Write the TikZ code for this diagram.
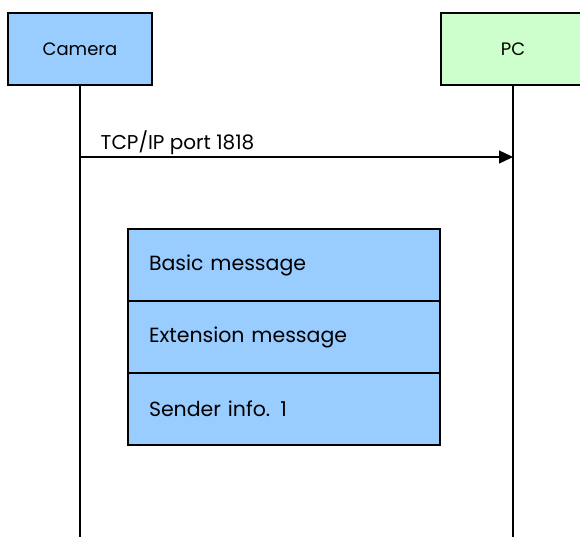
\documentclass[tikz,border=0pt]{standalone}
\usepackage{fontspec}
\setmainfont{Poppins}
\usetikzlibrary{arrows.meta}
\definecolor{camblue}{HTML}{99CCFF}
\definecolor{pcgreen}{HTML}{CCFFCC}
\begin{document}
\begin{tikzpicture}[x=1pt, y=-1pt, line width=1.4pt,
			actor/.style={draw, minimum width=144pt, minimum height=72pt, inner sep=0pt, font=\fontsize{18}{21}\selectfont},
			field/.style={draw, fill=camblue, minimum height=72pt, text width=270pt, inner xsep=21pt, inner ysep=0pt, align=left, font=\fontsize{20.5}{24}\selectfont}]
			\useasboundingbox (0,0) rectangle (580,536);
			\node[actor, fill=camblue] (cam) at (80,49) {Camera};
			\node[actor, fill=pcgreen] (pc) at (513,49) {PC};
			\coordinate (camEnd) at (80,540);
			\coordinate (pcEnd) at (513,540);
			% lifelines
			\draw (cam.south) -- (camEnd);
			\draw (pc.south) -- (pcEnd);
			% message
			\coordinate (send) at (80,157);
			\coordinate (recv) at (513,157);
			\draw[-{Triangle[length=14pt, width=13pt]}] (send) -- node[pos=0, above right, xshift=18pt, inner sep=2pt, font=\fontsize{20}{23}\selectfont] (lbl) {TCP/IP port 1818} (recv);
			% message layout
			\foreach \t [count=\i] in {Basic message, Extension message, Sender info. 1}{
				\node[field] (F\i) at (284, {265+72*(\i-1)}) {\t};
			}
		\end{tikzpicture}
\end{document}
